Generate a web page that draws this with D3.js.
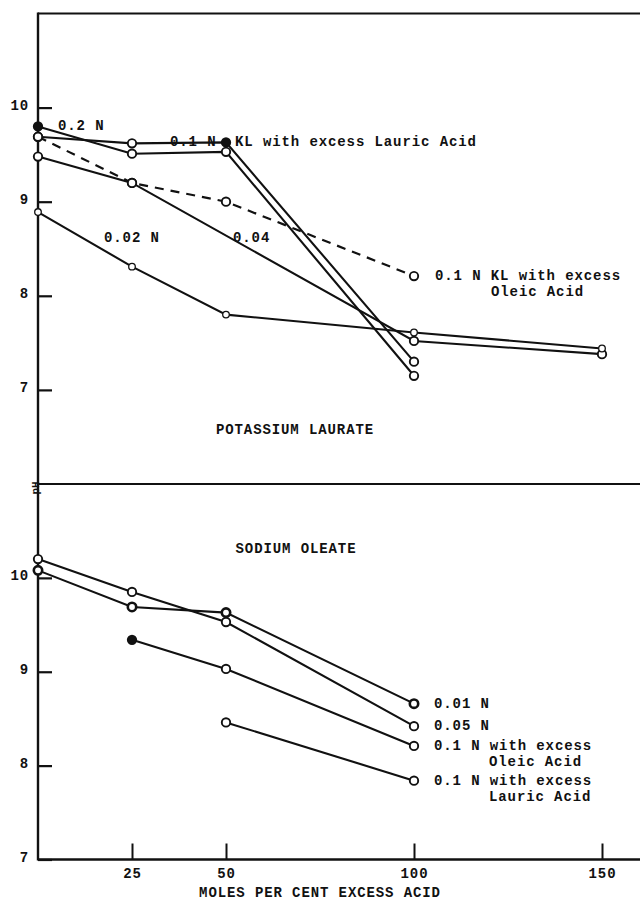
<!DOCTYPE html>
<html>
<head>
<meta charset="utf-8">
<script src="https://cdn.jsdelivr.net/npm/d3@7"></script>
<style>
  html, body { margin: 0; padding: 0; background: #fff; }
  svg { display: block; }
  text { font-family: "Liberation Mono", "DejaVu Sans Mono", monospace; font-weight: bold; fill: #111; letter-spacing: 0.9px; }
</style>
</head>
<body>
<svg id="chart" width="640" height="901"></svg>
<script>
// Moles per cent excess acid at which the pH was measured
const excessAcid = [0, 25, 50, 100, 150];
const xTicks = [25, 50, 100, 150];
const pHTicks = [7, 8, 9, 10];

// Potassium laurate, pH at each excess-acid level (null = not measured)
const kl02N       = [9.80, 9.51, 9.53, 7.15, null];
const kl01NLauric = [9.69, 9.62, 9.63, 7.30, null];
const kl004N      = [9.48, 9.20, null, 7.52, 7.38];
const kl002N      = [8.89, 8.31, 7.80, 7.61, 7.44];
const kl01NOleic  = [9.69, 9.20, 9.00, 8.21, null];

// Sodium oleate, pH at each excess-acid level
const no001N      = [10.08, 9.69, 9.63, 8.66, null];
const no005N      = [10.20, 9.85, 9.53, 8.42, null];
const no01NOleic  = [null, 9.34, 9.03, 8.21, null];
const no01NLauric = [null, null, 8.46, 7.84, null];

// Indices of the points plotted as solid dots
const kl02NSolid = [0];
const kl01NLauricSolid = [2];
const no01NOleicSolid = [1];

(function draw() {
  const svg = d3.select("#chart");
  const plotLeft = 38, plotRight = 640, plotTop = 13.5, plotMid = 484, plotBottom = 859.5;

  const x = d3.scaleLinear().domain([0, 160]).range([plotLeft, plotLeft + 160 * 3.76]);
  const yTop = d3.scaleLinear().domain([6, 11]).range([plotMid, plotTop]);
  const yBot = d3.scaleLinear().domain([7, 11]).range([plotBottom, plotMid]);

  const ink = "#111";
  const FS = 14;

  // Frame: left axis, top border, panel separator, bottom axis
  const frame = svg.append("g").attr("stroke", ink).attr("fill", "none");
  frame.append("line").attr("x1", plotLeft).attr("x2", plotLeft).attr("y1", plotTop - 1).attr("y2", plotBottom + 1).attr("stroke-width", 2.4);
  frame.append("line").attr("x1", plotLeft).attr("x2", plotRight).attr("y1", plotTop).attr("y2", plotTop).attr("stroke-width", 2);
  frame.append("line").attr("x1", plotLeft).attr("x2", plotRight).attr("y1", plotMid).attr("y2", plotMid).attr("stroke-width", 2);
  frame.append("line").attr("x1", plotLeft).attr("x2", plotRight).attr("y1", plotBottom).attr("y2", plotBottom).attr("stroke-width", 2.4);

  function styleYAxis(g) {
    g.select(".domain").remove();
    g.selectAll(".tick line").attr("stroke", ink).attr("stroke-width", 2.2);
    g.selectAll(".tick text")
      .attr("x", -9).attr("dy", null).attr("y", -2.5)
      .attr("dominant-baseline", "central")
      .style("font-size", FS + "px");
  }

  svg.append("g").attr("transform", `translate(${plotLeft},0)`)
    .call(d3.axisLeft(yTop).tickValues(pHTicks).tickSize(-14).tickFormat(d3.format("d")))
    .call(styleYAxis);

  svg.append("g").attr("transform", `translate(${plotLeft},0)`)
    .call(d3.axisLeft(yBot).tickValues(pHTicks).tickSize(-14).tickFormat(d3.format("d")))
    .call(styleYAxis);

  const xAxis = svg.append("g").attr("transform", `translate(0,${plotBottom})`)
    .call(d3.axisBottom(x).tickValues(xTicks).tickSize(-16).tickFormat(d3.format("d")));
  xAxis.select(".domain").remove();
  xAxis.selectAll(".tick line").attr("stroke", ink).attr("stroke-width", 2);
  xAxis.selectAll(".tick text")
    .attr("y", 14).attr("dy", null)
    .attr("dominant-baseline", "central")
    .style("font-size", FS + "px");

  // Axis titles
  svg.append("text")
    .attr("x", 320).attr("y", 893)
    .attr("text-anchor", "middle").attr("dominant-baseline", "central")
    .style("font-size", FS + "px")
    .text("MOLES PER CENT EXCESS ACID");

  svg.append("text")
    .attr("transform", "translate(36,488) rotate(-90)")
    .attr("text-anchor", "middle").attr("dominant-baseline", "central")
    .style("font-size", "11px")
    .style("letter-spacing", "0px")
    .text("pH");

  // Series
  const series = [
    { y: yTop, values: kl02N, solid: kl02NSolid },
    { y: yTop, values: kl01NLauric, solid: kl01NLauricSolid },
    { y: yTop, values: kl004N, solid: [] },
    { y: yTop, values: kl002N, solid: [], small: true },
    { y: yTop, values: kl01NOleic, solid: [], dashed: true },
    { y: yBot, values: no001N, solid: [], heavy: true },
    { y: yBot, values: no005N, solid: [] },
    { y: yBot, values: no01NOleic, solid: no01NOleicSolid },
    { y: yBot, values: no01NLauric, solid: [] }
  ];

  series.forEach(s => {
    const pts = excessAcid
      .map((a, i) => ({ a, v: s.values[i], i }))
      .filter(p => p.v != null);
    const line = d3.line().x(p => x(p.a)).y(p => s.y(p.v));
    svg.append("path")
      .datum(pts)
      .attr("d", line)
      .attr("fill", "none")
      .attr("stroke", ink)
      .attr("stroke-width", s.dashed ? 2.2 : 2.1)
      .attr("stroke-dasharray", s.dashed ? "9,7" : null);
    s.pts = pts;
  });

  series.forEach(s => {
    svg.append("g").selectAll("circle")
      .data(s.pts)
      .join("circle")
      .attr("cx", p => x(p.a))
      .attr("cy", p => s.y(p.v))
      .attr("r", s.small ? 3.3 : 4.2)
      .attr("fill", p => s.solid.includes(p.i) ? ink : "#fff")
      .attr("stroke", ink)
      .attr("stroke-width", s.small ? 1.3 : (s.heavy ? 2.6 : 1.9));
  });

  // Labels
  function label(xp, yp, str, anchor) {
    svg.append("text")
      .attr("x", xp).attr("y", yp)
      .attr("text-anchor", anchor || "start")
      .attr("dominant-baseline", "central")
      .style("font-size", FS + "px")
      .text(str);
  }

  label(58, 126, "0.2 N");
  label(170, 141.5, "0.1 N");
  label(235, 142, "KL with excess Lauric Acid");
  label(104, 238, "0.02 N");
  label(233, 238, "0.04");
  label(x(100) + 21, yTop(kl01NOleic[3]), "0.1 N KL with excess");
  label(x(100) + 77, yTop(kl01NOleic[3]) + 16, "Oleic Acid");
  label(295, 430, "POTASSIUM LAURATE", "middle");

  label(296, 549, "SODIUM OLEATE", "middle");
  label(x(100) + 20, yBot(no001N[3]), "0.01 N");
  label(x(100) + 20, yBot(no005N[3]), "0.05 N");
  label(x(100) + 20, yBot(no01NOleic[3]), "0.1 N with excess");
  label(x(100) + 75, yBot(no01NOleic[3]) + 16, "Oleic Acid");
  label(x(100) + 20, yBot(no01NLauric[3]), "0.1 N with excess");
  label(x(100) + 75, yBot(no01NLauric[3]) + 16, "Lauric Acid");
})();
</script>
</body>
</html>
